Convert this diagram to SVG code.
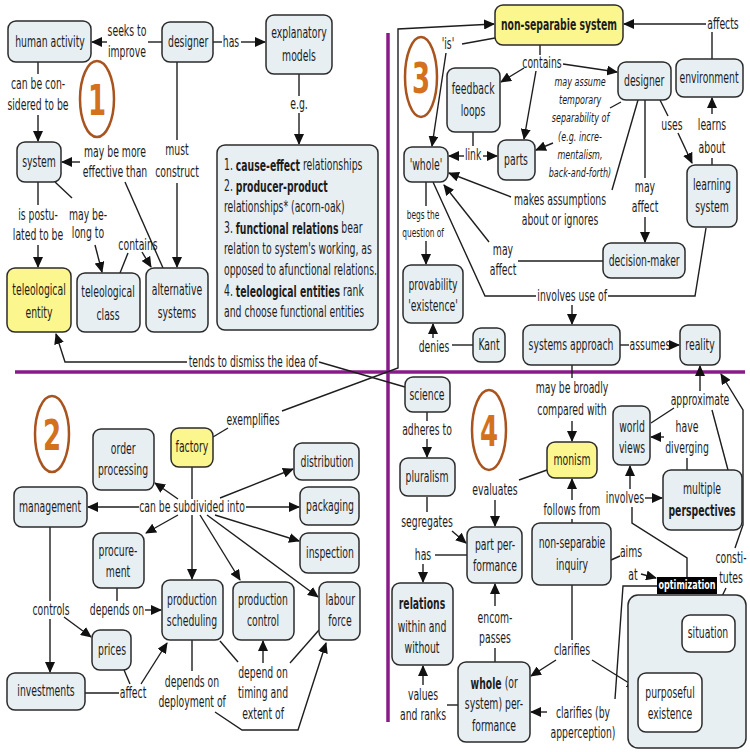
<svg xmlns="http://www.w3.org/2000/svg" width="750" height="752" viewBox="0 0 750 752">
<defs>
<marker id="ah" markerUnits="userSpaceOnUse" markerWidth="11" markerHeight="10" refX="10" refY="5" orient="auto"><path d="M0,0 L11,5 L0,10 z" fill="#111"/></marker>
<style>
text{font-family:"DejaVu Sans","Liberation Sans",sans-serif;font-size:15px;fill:#1c1c1c;text-anchor:middle;dominant-baseline:central;transform-box:fill-box;transform-origin:center;transform:scaleX(0.62)}
text.l{text-anchor:start;transform-origin:left center}
.b{font-weight:bold}
.it{font-style:italic;font-size:13px}
.sm{font-size:12px}
.num{font-size:42px;font-weight:bold;fill:#d4711c}
.opt{fill:#fff;font-weight:bold;font-size:13px}
rect.n{fill:#e8eff3;stroke:#2b2b2b;stroke-width:1.5}
rect.y{fill:#fcf68f;stroke:#2b2b2b;stroke-width:1.5}
rect.w{fill:#ffffff;stroke:#2b2b2b;stroke-width:1.5}
ellipse.c{fill:none;stroke:#a9541f;stroke-width:2.5}
#connectors path{fill:none;stroke:#1e1e1e;stroke-width:1.4}
#connectors path.a{marker-end:url(#ah)}
.div{stroke:#8a1a8a;stroke-width:3.5;fill:none}
</style>
</defs>
<rect width="750" height="752" fill="#ffffff"/>
<g id="dividers">
<path class="div" d="M15,372 H745"/>
<path class="div" d="M388,33 V722"/>
</g>
<g id="connectors">
<path d="M162,42 H148"/>
<path class="a" d="M107,42 H92"/>
<path d="M213,42 H222"/>
<path class="a" d="M241,42 H265"/>
<path d="M38,62 V74"/>
<path class="a" d="M38,115 V141"/>
<path d="M177,62 V140"/>
<path class="a" d="M177,183 V267"/>
<path d="M163,268 L125,182"/>
<path class="a" d="M80,162 H62"/>
<path d="M38,182 V205"/>
<path class="a" d="M38,245 V267"/>
<path d="M55,182 L72,198"/>
<path class="a" d="M95,245 L102,272"/>
<path d="M120,273 L128,253"/>
<path class="a" d="M142,252 L151,267"/>
<path d="M299,74 V96"/>
<path class="a" d="M299,113 V144"/>
<path class="a" d="M187,362 H65 L56,334"/>
<path d="M319,362 L405,387"/>
<path d="M213,437 L228,428"/>
<path class="a" d="M282,411 L398,368 V29 L494,24"/>
<path d="M495,38 L462,44"/>
<path class="a" d="M446,53 L432,146"/>
<path d="M540,45 V55"/>
<path class="a" d="M524,68 L501,82"/>
<path class="a" d="M536,71 L524,139"/>
<path class="a" d="M563,64 L617,72"/>
<path d="M473,132 V146"/>
<path class="a" d="M464,156 H449"/>
<path class="a" d="M483,156 H497"/>
<path d="M621,102 L610,108"/>
<path class="a" d="M553,143 L536,150"/>
<path d="M638,100 L612,190"/>
<path class="a" d="M511,197 L449,173"/>
<path d="M645,100 V178"/>
<path class="a" d="M645,217 V242"/>
<path d="M660,100 L668,116"/>
<path class="a" d="M678,133 L692,163"/>
<path d="M712,165 V158"/>
<path class="a" d="M712,114 V98"/>
<path d="M712,59 V32"/>
<path class="a" d="M706,24 H624"/>
<path d="M603,261 H518"/>
<path class="a" d="M489,242 L444,185"/>
<path d="M426,182 V206"/>
<path class="a" d="M426,241 V264"/>
<path d="M473,345 H452"/>
<path class="a" d="M433,338 V324"/>
<path d="M433,182 L485,296 H536"/>
<path d="M608,296 H695 L706,228"/>
<path class="a" d="M572,305 V324"/>
<path d="M620,345 H629"/>
<path class="a" d="M672,345 H679"/>
<path d="M572,365 V378"/>
<path class="a" d="M572,421 V441"/>
<path d="M427,412 V421"/>
<path class="a" d="M427,439 V457"/>
<path d="M547,470 L519,480"/>
<path class="a" d="M495,500 V526"/>
<path d="M572,523 V519"/>
<path class="a" d="M572,500 V479"/>
<path d="M427,497 V512"/>
<path class="a" d="M452,531 L466,543"/>
<path d="M467,555 H435"/>
<path class="a" d="M423,564 V582"/>
<path d="M651,423 L674,408"/>
<path class="a" d="M700,391 V366"/>
<path d="M728,470 L712,410"/>
<path d="M687,470 V458"/>
<path class="a" d="M664,437 H651"/>
<path d="M687,577 V558 L632,523 V507"/>
<path class="a" d="M645,498 H662"/>
<path class="a" d="M630,489 V466"/>
<path d="M611,560 L620,556"/>
<path class="a" d="M641,574 L656,578"/>
<path d="M713,615 L726,588"/>
<path class="a" d="M735,548 L743,525 V410 L721,374"/>
<path d="M657,586 H623 L615,699"/>
<path class="a" d="M547,712 H531"/>
<path d="M572,585 V640"/>
<path class="a" d="M556,660 L531,676"/>
<path class="a" d="M592,660 L637,688"/>
<path d="M495,662 V648"/>
<path class="a" d="M495,606 V584"/>
<path d="M458,705 H447"/>
<path class="a" d="M423,685 V666"/>
<path d="M702,703 H707"/>
<path class="a" d="M722,682 V653"/>
<path d="M192,467 V499"/>
<path class="a" d="M139,507 H88"/>
<path class="a" d="M178,499 L155,483"/>
<path class="a" d="M220,498 L293,469"/>
<path class="a" d="M246,507 H299"/>
<path class="a" d="M215,515 L299,541"/>
<path class="a" d="M178,515 L146,533"/>
<path class="a" d="M192,515 V579"/>
<path class="a" d="M200,515 L240,580"/>
<path class="a" d="M207,515 L318,597"/>
<path d="M117,588 V601"/>
<path class="a" d="M145,610 H161"/>
<path d="M50,527 V601"/>
<path class="a" d="M50,619 V672"/>
<path class="a" d="M64,617 L91,637"/>
<path d="M85,693 H119"/>
<path d="M124,670 L130,684"/>
<path class="a" d="M141,684 L167,643"/>
<path d="M192,640 V671"/>
<path class="a" d="M215,712 L242,730 H298 L326,643"/>
<path d="M220,641 L238,662"/>
<path class="a" d="M263,663 V641"/>
<path d="M290,663 L319,630"/>
</g>
<g id="labels">
<text x="127" y="31">seeks to</text><text x="127" y="52">improve</text>
<text x="231" y="42">has</text>
<text x="38" y="84">can be con-</text><text x="38" y="105">sidered to be</text>
<text x="115" y="152">may be more</text><text x="115" y="172">effective than</text>
<text x="177" y="150">must</text><text x="177" y="172">construct</text>
<text x="38" y="215">is postu-</text><text x="38" y="235">lated to be</text>
<text x="88" y="215">may be-</text><text x="88" y="233">long to</text>
<text x="138" y="245">contains</text>
<text x="299" y="104">e.g.</text>
<text x="253" y="362">tends to dismiss the idea of</text>
<text x="253" y="420">exemplifies</text>
<text x="448" y="44">'is'</text>
<text x="542" y="63">contains</text>
<text x="473" y="155">link</text>
<text class="it" x="580" y="82">may assume</text>
<text class="it" x="580" y="100">temporary</text>
<text class="it" x="580" y="118">separability of</text>
<text class="it" x="580" y="137">(e.g. incre-</text>
<text class="it" x="580" y="155">mentalism,</text>
<text class="it" x="580" y="173">back-and-forth)</text>
<text x="560" y="200">makes assumptions</text><text x="560" y="220">about or ignores</text>
<text x="645" y="187">may</text><text x="645" y="207">affect</text>
<text x="672" y="125">uses</text>
<text x="712" y="125">learns</text><text x="712" y="148">about</text>
<text x="723" y="24">affects</text>
<text x="503" y="250">may</text><text x="503" y="270">affect</text>
<text class="sm" x="423" y="215">begs the</text><text class="sm" x="423" y="233">question of</text>
<text x="434" y="347">denies</text>
<text x="572" y="296">involves use of</text>
<text x="650" y="345">assumes</text>
<text x="427" y="430">adheres to</text>
<text x="572" y="388">may be broadly</text><text x="572" y="410">compared with</text>
<text x="495" y="490">evaluates</text>
<text x="572" y="510">follows from</text>
<text x="427" y="522">segregates</text>
<text x="423" y="555">has</text>
<text x="700" y="400">approximate</text>
<text x="687" y="427">have</text><text x="687" y="448">diverging</text>
<text x="625" y="498">involves</text>
<text x="631" y="552">aims</text><text x="633" y="575">at</text>
<text x="731" y="558">consti-</text><text x="731" y="578">tutes</text>
<text x="495" y="618">encom-</text><text x="495" y="638">passes</text>
<text x="423" y="695">values</text><text x="423" y="715">and ranks</text>
<text x="572" y="650">clarifies</text>
<text x="583" y="713">clarifies (by</text><text x="583" y="733">apperception)</text>
<text x="722" y="692">im-</text><text x="722" y="712">proves</text>
<text x="192" y="507">can be subdivided into</text>
<text x="117" y="610">depends on</text>
<text x="51" y="610">controls</text>
<text x="133" y="693">affect</text>
<text x="192" y="682">depends on</text><text x="192" y="702">deployment of</text>
<text x="263" y="673">depend on</text><text x="263" y="693">timing and</text><text x="263" y="714">extent of</text>
</g>
<g id="section-numbers">
<ellipse class="c" cx="97" cy="99" rx="17" ry="38"/><text class="num" x="97" y="101">1</text>
<ellipse class="c" cx="52" cy="434" rx="17" ry="38"/><text class="num" x="52" y="436">2</text>
<ellipse class="c" cx="421" cy="77" rx="16" ry="40"/><text class="num" x="421" y="79">3</text>
<ellipse class="c" cx="489" cy="430" rx="17" ry="40"/><text class="num" x="489" y="432">4</text>
</g>
<g id="n-human-activity"><rect class="n" x="8" y="21" width="83" height="41" rx="8"/><text x="50" y="42">human activity</text></g>
<g id="n-designer-1"><rect class="n" x="162" y="22" width="51" height="40" rx="8"/><text x="188" y="42">designer</text></g>
<g id="n-explanatory-models"><rect class="n" x="266" y="15" width="66" height="59" rx="8"/><text x="299" y="33">explanatory</text><text x="299" y="56">models</text></g>
<g id="n-system"><rect class="n" x="17" y="142" width="44" height="40" rx="8"/><text x="39" y="162">system</text></g>
<g id="n-teleological-entity"><rect class="y" x="7" y="268" width="64" height="64" rx="8"/><text x="39" y="290">teleological</text><text x="39" y="313">entity</text></g>
<g id="n-teleological-class"><rect class="n" x="77" y="273" width="63" height="59" rx="8"/><text x="108" y="292">teleological</text><text x="108" y="315">class</text></g>
<g id="n-alternative-systems"><rect class="n" x="146" y="268" width="62" height="64" rx="8"/><text x="177" y="290">alternative</text><text x="177" y="313">systems</text></g>
<g id="n-examples"><rect class="n" x="217" y="145" width="161" height="185" rx="8"/>
<text class="l" x="224" y="165">1. <tspan class="b">cause-effect</tspan> relationships</text>
<text class="l" x="224" y="186">2. <tspan class="b">producer-product</tspan></text>
<text class="l" x="224" y="207">relationships* (acorn-oak)</text>
<text class="l" x="224" y="228">3. <tspan class="b">functional relations</tspan> bear</text>
<text class="l" x="224" y="249">relation to system's working, as</text>
<text class="l" x="224" y="270">opposed to afunctional relations.</text>
<text class="l" x="224" y="291">4. <tspan class="b">teleological entities</tspan> rank</text>
<text class="l" x="224" y="312">and choose functional entities</text></g>
<g id="n-non-separable-system"><rect class="y" x="495" y="5" width="128" height="40" rx="8"/><text class="b" x="559" y="25">non-separabie system</text></g>
<g id="n-designer-3"><rect class="n" x="618" y="62" width="53" height="38" rx="8"/><text x="644" y="81">designer</text></g>
<g id="n-environment"><rect class="n" x="676" y="59" width="67" height="38" rx="8"/><text x="709" y="78">environment</text></g>
<g id="n-feedback-loops"><rect class="n" x="447" y="68" width="53" height="64" rx="8"/><text x="473" y="89">feedback</text><text x="473" y="111">loops</text></g>
<g id="n-whole"><rect class="n" x="404" y="147" width="44" height="35" rx="8"/><text x="426" y="165">'whole'</text></g>
<g id="n-parts"><rect class="n" x="498" y="140" width="37" height="40" rx="8"/><text x="516" y="160">parts</text></g>
<g id="n-learning-system"><rect class="n" x="687" y="165" width="50" height="62" rx="8"/><text x="712" y="185">learning</text><text x="712" y="207">system</text></g>
<g id="n-decision-maker"><rect class="n" x="603" y="243" width="82" height="35" rx="8"/><text x="644" y="261">decision-maker</text></g>
<g id="n-provability"><rect class="n" x="403" y="265" width="60" height="58" rx="8"/><text x="433" y="285">provability</text><text x="433" y="306">'existence'</text></g>
<g id="n-kant"><rect class="n" x="473" y="328" width="32" height="34" rx="8"/><text x="489" y="345">Kant</text></g>
<g id="n-systems-approach"><rect class="n" x="523" y="325" width="97" height="40" rx="8"/><text x="571" y="345">systems approach</text></g>
<g id="n-reality"><rect class="n" x="680" y="325" width="40" height="40" rx="8"/><text x="700" y="345">reality</text></g>
<g id="n-science"><rect class="n" x="405" y="377" width="45" height="35" rx="8"/><text x="427" y="395">science</text></g>
<g id="n-pluralism"><rect class="n" x="400" y="458" width="55" height="38" rx="8"/><text x="427" y="477">pluralism</text></g>
<g id="n-monism"><rect class="y" x="547" y="442" width="50" height="36" rx="8"/><text x="572" y="460">monism</text></g>
<g id="n-part-performance"><rect class="n" x="467" y="527" width="55" height="56" rx="8"/><text x="495" y="545">part per-</text><text x="495" y="566">formance</text></g>
<g id="n-non-separable-inquiry"><rect class="n" x="532" y="523" width="79" height="62" rx="8"/><text x="572" y="543">non-separabie</text><text x="572" y="565">inquiry</text></g>
<g id="n-relations"><rect class="n" x="392" y="583" width="61" height="82" rx="8"/><text class="b" x="422" y="604">relations</text><text x="422" y="627">within and</text><text x="422" y="648">without</text></g>
<g id="n-world-views"><rect class="n" x="613" y="406" width="37" height="59" rx="8"/><text x="632" y="427">world</text><text x="632" y="448">views</text></g>
<g id="n-multiple-perspectives"><rect class="n" x="663" y="470" width="79" height="60" rx="8"/><text x="702" y="489">multiple</text><text class="b" x="702" y="511">perspectives</text></g>
<g id="n-optimization"><rect class="n" x="628" y="595" width="118" height="153" rx="10"/><rect x="657" y="577" width="60" height="17" fill="#000"/><text class="opt" x="687" y="585">optimization</text></g>
<g id="n-situation"><rect class="w" x="682" y="615" width="53" height="37" rx="8"/><text x="708" y="633">situation</text></g>
<g id="n-purposeful-existence"><rect class="w" x="638" y="673" width="64" height="59" rx="8"/><text x="670" y="693">purposeful</text><text x="670" y="714">existence</text></g>
<g id="n-whole-performance"><rect class="n" x="458" y="662" width="72" height="80" rx="8"/><text x="494" y="683"><tspan class="b">whole</tspan> (or</text><text x="494" y="704">system) per-</text><text x="494" y="726">formance</text></g>
<g id="n-factory"><rect class="y" x="171" y="428" width="42" height="39" rx="8"/><text x="192" y="447">factory</text></g>
<g id="n-order-processing"><rect class="n" x="93" y="429" width="61" height="61" rx="8"/><text x="123" y="449">order</text><text x="123" y="470">processing</text></g>
<g id="n-distribution"><rect class="n" x="294" y="443" width="65" height="37" rx="8"/><text x="327" y="462">distribution</text></g>
<g id="n-packaging"><rect class="n" x="300" y="487" width="59" height="38" rx="8"/><text x="330" y="506">packaging</text></g>
<g id="n-inspection"><rect class="n" x="300" y="533" width="59" height="40" rx="8"/><text x="330" y="553">inspection</text></g>
<g id="n-management"><rect class="n" x="14" y="487" width="73" height="40" rx="8"/><text x="50" y="507">management</text></g>
<g id="n-procurement"><rect class="n" x="93" y="533" width="51" height="55" rx="8"/><text x="118" y="551">procure-</text><text x="118" y="572">ment</text></g>
<g id="n-production-scheduling"><rect class="n" x="162" y="580" width="61" height="60" rx="8"/><text x="192" y="600">production</text><text x="192" y="621">scheduling</text></g>
<g id="n-production-control"><rect class="n" x="233" y="582" width="61" height="58" rx="8"/><text x="263" y="600">production</text><text x="263" y="621">control</text></g>
<g id="n-labour-force"><rect class="n" x="319" y="582" width="41" height="58" rx="8"/><text x="340" y="600">labour</text><text x="340" y="621">force</text></g>
<g id="n-prices"><rect class="n" x="92" y="630" width="39" height="40" rx="8"/><text x="112" y="650">prices</text></g>
<g id="n-investments"><rect class="n" x="7" y="673" width="78" height="37" rx="8"/><text x="46" y="691">investments</text></g>
</svg>
